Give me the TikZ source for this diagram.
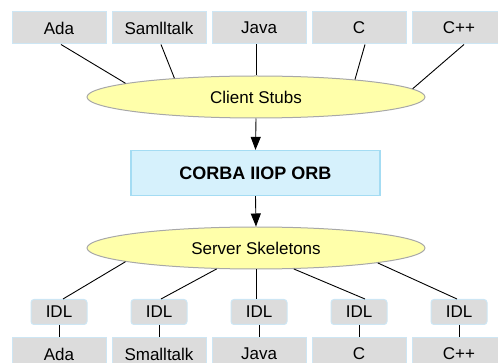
\documentclass[tikz,border=0pt]{standalone}
\usepackage{fontspec}
\setmainfont{Liberation Sans}
\usetikzlibrary{shapes.geometric,arrows.meta}

\definecolor{langfill}{HTML}{DCDCDC}
\definecolor{langedge}{HTML}{CDE6F4}
\definecolor{stubfill}{HTML}{FFFFAA}
\definecolor{stubedge}{HTML}{A8A8A8}
\definecolor{orbfill}{HTML}{D6F1FC}
\definecolor{orbedge}{HTML}{A4DCF3}

\tikzset{
  lang/.style={draw=langedge, fill=langfill, line width=1pt,
    minimum width=94pt, minimum height=32pt, inner sep=0pt,
    font=\fontsize{17}{20}\selectfont},
  idl/.style={draw=langedge, fill=langfill, line width=1pt, rounded corners=3pt,
    minimum width=56pt, minimum height=25pt, inner sep=0pt,
    font=\fontsize{17}{20}\selectfont},
  stub/.style={ellipse, draw=stubedge, fill=stubfill, line width=1pt,
    minimum width=338pt, minimum height=42pt, inner sep=0pt,
    font=\fontsize{17}{20}\selectfont},
  orb/.style={draw=orbedge, fill=orbfill, line width=1.2pt,
    minimum width=249pt, minimum height=45pt, inner sep=0pt,
    font=\fontsize{18}{21}\selectfont\bfseries},
  link/.style={draw=black, line width=0.9pt},
  flow/.style={draw=black, line width=0.9pt, -{Triangle[length=13pt,width=10pt]}}
}

\begin{document}
\begin{tikzpicture}[x=1pt, y=-1pt]
  \useasboundingbox (0,0) rectangle (498,363);
  \clip (0,0) rectangle (498,363);

  % client languages
  \node[lang] (tada)   at (59,28)  {Ada};
  \node[lang] (tsmall) at (159,28) {Samlltalk};
  \node[lang] (tjava)  at (259,28) {Java};
  \node[lang] (tc)     at (359,28) {C};
  \node[lang] (tcpp)   at (459,28) {C++};

  % stubs, broker and skeletons
  \node[stub] (cs)  at (256,97)    {Client Stubs};
  \node[orb]  (orb) at (255.5,173) {CORBA IIOP ORB};
  \node[stub] (ss)  at (256,248)   {Server Skeletons};

  % IDL interfaces
  \node[idl] (i1) at (59,312)  {IDL};
  \node[idl] (i2) at (159,312) {IDL};
  \node[idl] (i3) at (259,312) {IDL};
  \node[idl] (i4) at (359,312) {IDL};
  \node[idl] (i5) at (459,312) {IDL};

  % server languages
  \node[lang] (bada)   at (59,354)  {Ada};
  \node[lang] (bsmall) at (159,354) {Smalltalk};
  \node[lang] (bjava)  at (259,354) {Java};
  \node[lang] (bc)     at (359,354) {C};
  \node[lang] (bcpp)   at (459,354) {C++};

  % client side links
  \draw[link] ([xshift=2pt]tada.south)   -- (cs.174);
  \draw[link] ([xshift=2pt]tsmall.south) -- (cs.167);
  \draw[link] (tjava.south -| cs.north) -- (cs.north);
  \draw[link] ([xshift=6pt]tc.south)     -- (cs.10.6);
  \draw[link] ([xshift=5pt]tcpp.south)   -- (cs.3.4);

  % request flow
  \draw[flow] (cs.south)  -- (orb.north);
  \draw[flow] (orb.south) -- (ss.north);

  % server side links
  \draw[link] ([xshift=4pt]i1.north) -- (ss.186.5);
  \draw[link] ([xshift=2pt]i2.north) -- (ss.208);
  \draw[link] (ss.south) -- (i3.north -| ss.south);
  \draw[link] ([xshift=6pt]i4.north) -- (ss.331);
  \draw[link] ([xshift=-2pt]i5.north) -- (ss.353.8);

  % IDL to language
  \draw[link] (i1.south) -- (bada.north);
  \draw[link] (i2.south) -- (bsmall.north);
  \draw[link] (i3.south) -- (bjava.north);
  \draw[link] (i4.south) -- (bc.north);
  \draw[link] (i5.south) -- (bcpp.north);
\end{tikzpicture}
\end{document}
